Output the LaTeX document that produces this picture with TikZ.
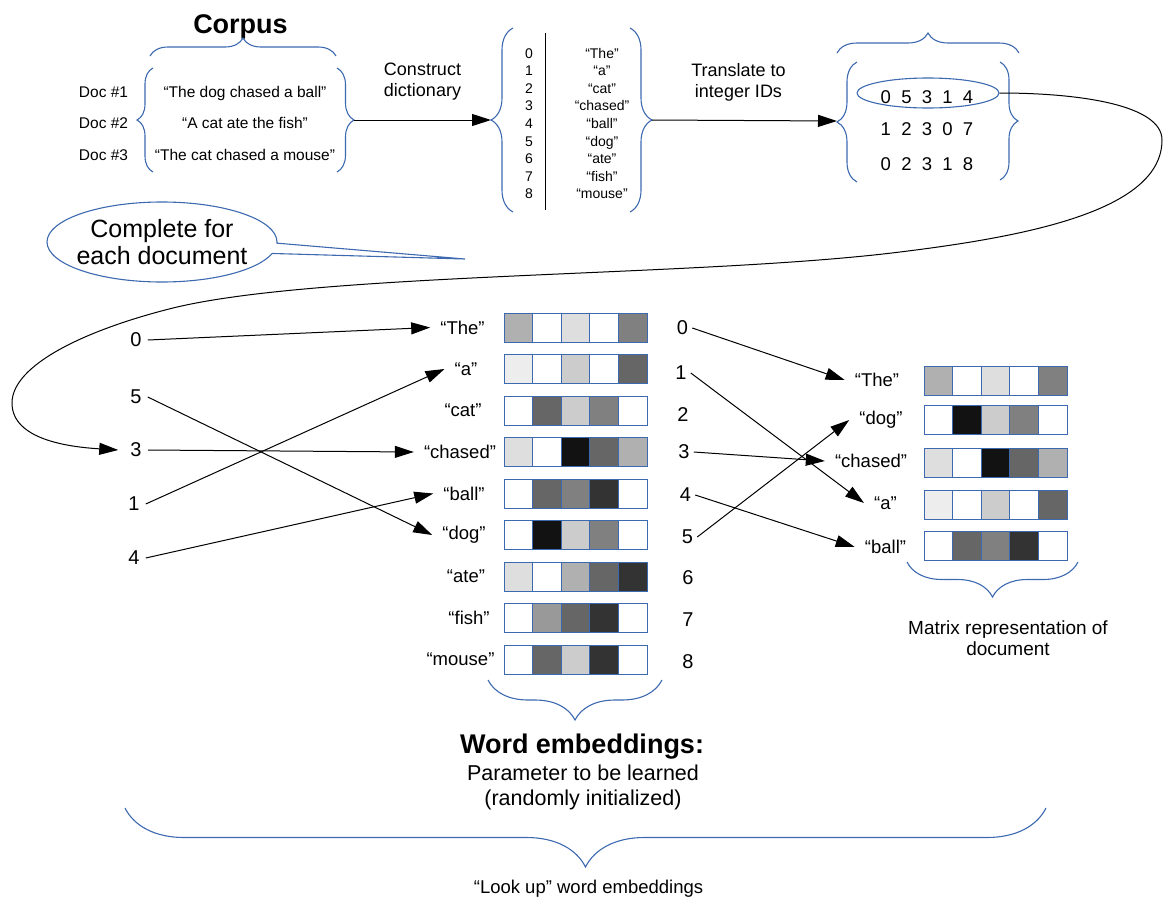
\documentclass[tikz,border=0pt]{standalone}
\usepackage{fontspec}
\setmainfont{Liberation Sans}
\usepackage{tikz}
\usetikzlibrary{arrows.meta, decorations.pathreplacing, shapes.geometric, shapes.callouts}
\definecolor{braceblue}{RGB}{60, 105, 175}
\tikzset{
  titletext/.style={font=\fontsize{27}{32}\selectfont\bfseries},
  doctext/.style={font=\fontsize{15.5}{18}\selectfont},
  dicttext/.style={font=\fontsize{14}{17}\selectfont},
  steptext/.style={font=\fontsize{18}{21}\selectfont, align=center},
  idtext/.style={font=\fontsize{18.5}{22}\selectfont},
  wordlbl/.style={font=\fontsize{18.5}{22}\selectfont, inner xsep=10pt},
  idxnum/.style={font=\fontsize{20}{24}\selectfont, inner xsep=6pt},
  rownum/.style={font=\fontsize{20}{24}\selectfont, inner xsep=4pt},
  embcell/.style={draw=braceblue, line width=0.9pt},
  curly/.style={decorate, decoration={brace, amplitude=#1}, draw=braceblue, line width=1.1pt},
  arrow/.style={-{Triangle[length=19pt,width=12pt]}, line width=1pt, black},
}

\begin{document}
\begin{tikzpicture}[x=1pt, y=-1pt]
  \useasboundingbox (0,0) rectangle (1163,900);

  % corpus
  \node[titletext, anchor=base] (corpus) at (240.5,33) {Corpus};
  \draw[curly=18] (150,56) -- (336,56);
  \draw[curly=16] (153,172) -- (153,68);
  \draw[curly=17] (337,68) -- (337,172);
  \foreach \dn/\sent/\yy in {1/The dog chased a ball/97, 2/A cat ate the fish/128, 3/The cat chased a mouse/160} {
    \node[doctext, anchor=base] (doc\dn) at (103.5,\yy) {Doc \#\dn};
    \node[doctext, anchor=base] (sent\dn) at (245,\yy) {“\sent”};
  }
  \coordinate (corpusR) at (354,120);
  \coordinate (dictL) at (491,120);
  \draw[arrow] (corpusR) -- (dictL);
  \node[steptext] (construct) at (422.5,82) {Construct\\dictionary};

  % dictionary
  \draw[curly=22] (513,212) -- (513,28);
  \draw[curly=22] (630,28) -- (630,212);
  \draw[line width=1pt] (545,33) -- (545,210);
  \foreach \w [count=\i from 0] in {The,a,cat,chased,ball,dog,ate,fish,mouse} {
    \node[dicttext, anchor=base] (dictnum\i) at (529,{58+17.6*\i}) {\i};
    \node[dicttext, anchor=base] (dictword\i) at (602,{58+17.6*\i}) {“\w”};
  }
  \coordinate (dictR) at (652,120);
  \coordinate (idsL) at (837,121);
  \draw[arrow] (dictR) -- (idsL);
  \node[steptext] (translate) at (738.5,82) {Translate to\\integer IDs};

  % integer IDs
  \draw[curly=20] (837,53) -- (1019,53);
  \draw[curly=20] (857,182) -- (857,62);
  \draw[curly=18] (1000,62) -- (1000,180);
  \node[idtext, anchor=base] (ids1) at (927,103) {0 \ 5 \ 3 \ 1 \ 4};
  \node[idtext, anchor=base] (ids2) at (927,135) {1 \ 2 \ 3 \ 0 \ 7};
  \node[idtext, anchor=base] (ids3) at (927,170) {0 \ 2 \ 3 \ 1 \ 8};
  \node[ellipse, draw=braceblue, line width=1.1pt, minimum width=142pt, minimum height=30pt, inner sep=0pt] (firstdoc) at (928,93) {};

  \node[ellipse callout, draw=braceblue, line width=1.1pt, callout absolute pointer={(465,259)},
        font=\fontsize{25}{27}\selectfont, align=center, inner xsep=-6pt, inner ysep=2pt,
        minimum width=230pt, minimum height=80pt] (repeat) at (162,242) {Complete for\\each document};

  % word embeddings
  \foreach \w/\x/\g [count=\i from 0] in {The/462.5/{31,0,13,0,50}, a/466/{7,0,20,0,60}, cat/463/{0,60,20,50,0},
      chased/460/{13,0,93,60,31}, ball/464/{0,60,50,80,0}, dog/464/{0,93,20,50,0},
      ate/466/{13,0,31,60,80}, fish/469/{0,40,60,80,0}, mouse/460.5/{0,60,20,80,0}} {
    \node[wordlbl] (emb\w) at (\x,{327.5+41.5*\i}) {“\w”};
    \foreach \gr [count=\j from 0] in \g
      \filldraw[embcell, fill=black!\gr] ({504+28.6*\j},{313+41.5*\i}) rectangle ++(28.6,29);
  }

  \node[idxnum] (idx0) at (136,340) {0};
  \node[idxnum] (idx5) at (136,397) {5};
  \node[idxnum] (idx3) at (136,450) {3};
  \node[idxnum] (idx1) at (134,504) {1};
  \node[idxnum] (idx4) at (134,558) {4};
  \draw[arrow] (idx0.east) -- (embThe.west);
  \draw[arrow] (idx5.east) -- (embdog.west);
  \draw[arrow] (idx3.east) -- (embchased.west);
  \draw[arrow] (idx1.east) -- (emba.west);
  \draw[arrow] (idx4.east) -- (embball.west);

  \draw[arrow] (firstdoc.east) .. controls (1080,93) and (1162,105) .. (1162,140)
    .. controls (1162,210) and (1030,236) .. (900,252)
    .. controls (700,277) and (320,272) .. (173,308)
    .. controls (85,330) and (12,365) .. (12,403)
    .. controls (12,440) and (70,447) .. ([xshift=-6pt]idx3.west);

  % document matrix
  \foreach \x/\y [count=\i from 0] in {682.5/328, 681/373, 683/415, 684/452, 685.5/495, 687.5/537, 688/578, 688/620, 688/662}
    \node[rownum] (num\i) at (\x,\y) {\i};

  \foreach \w/\x/\y/\ty/\g in {The/877/380/366/{31,0,13,0,50}, dog/881/420/405/{0,93,20,50,0},
      chased/871/461/448/{13,0,93,60,31}, a/885.5/503/490/{7,0,20,0,60}, ball/885.5/547/531/{0,60,50,80,0}} {
    \node[wordlbl] (mat\w) at (\x,\y) {“\w”};
    \foreach \gr [count=\j from 0] in \g
      \filldraw[embcell, fill=black!\gr] ({924+28.6*\j},\ty) rectangle ++(28.6,29);
  }
  \draw[arrow] (num0.east) -- (matThe.west);
  \draw[arrow] (num1.east) -- (mata.west);
  \draw[arrow] (num3.east) -- (matchased.west);
  \draw[arrow] (num4.east) -- (matball.west);
  \draw[arrow] (num5.east) -- (matdog.west);

  \draw[curly=40] (662,680) -- (488,680);
  \draw[curly=35] (1078,562) -- (907,562);
  \draw[curly=59] (1046,808) -- (125,808);

  \node[titletext, anchor=base] (embtitle) at (582,753) {Word embeddings:};
  \node[font=\fontsize{21.5}{25}\selectfont, align=center] (embnote) at (583,787) {Parameter to be learned\\(randomly initialized)};
  \node[font=\fontsize{19}{21}\selectfont, align=center] (matnote) at (1008,638) {Matrix representation of\\document};
  \node[font=\fontsize{18.5}{22}\selectfont, anchor=base] (lookup) at (588.5,893) {“Look up” word embeddings};
\end{tikzpicture}
\end{document}
